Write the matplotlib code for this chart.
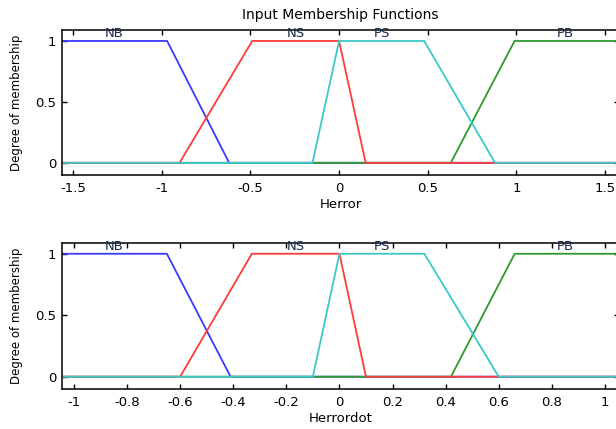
import matplotlib
matplotlib.use("Agg")
import matplotlib.pyplot as plt
import numpy as np

plt.rcParams['font.family'] = ['DejaVu Sans']

# Membership function names and trapezoid breakpoints [a, b, c, d]
# (None means the shoulder extends to the edge of the range)
mf_names = ["NB", "NS", "PS", "PB"]
mf_colors = ["#3a3aff", "#ff3b3b", "#3cc8c8", "#2e9a2e"]

herror_range = [-1.563, 1.579]
herror_nb = [None, None, -0.97, -0.62]
herror_ns = [-0.90, -0.49, 0.0, 0.15]
herror_ps = [-0.15, 0.0, 0.48, 0.88]
herror_pb = [0.63, 0.99, None, None]
herror_ticks = [-1.5, -1, -0.5, 0, 0.5, 1, 1.5]
herror_ticklabels = ["-1.5", "-1", "-0.5", "0", "0.5", "1", "1.5"]

herrordot_range = [-1.045, 1.053]
herrordot_nb = [None, None, -0.65, -0.41]
herrordot_ns = [-0.60, -0.33, 0.0, 0.10]
herrordot_ps = [-0.10, 0.0, 0.32, 0.60]
herrordot_pb = [0.42, 0.66, None, None]
herrordot_ticks = [-1, -0.8, -0.6, -0.4, -0.2, 0, 0.2, 0.4, 0.6, 0.8, 1]
herrordot_ticklabels = ["-1", "-0.8", "-0.6", "-0.4", "-0.2", "0", "0.2",
                        "0.4", "0.6", "0.8", "1"]

y_ticks = [0, 0.5, 1]
y_ticklabels = ["0", "0.5", "1"]

# labels are centred on the plateau of the symmetric ±range
label_span = {"Herror": 1.563, "Herrordot": 1.045}


def trap_curve(params, lo, hi):
    a, b, c, d = params
    xs, ys = [lo], []
    if a is None:
        ys.append(1.0)
    else:
        ys.append(0.0)
        xs += [a, b]
        ys += [0.0, 1.0]
    if d is None:
        xs.append(hi)
        ys.append(1.0)
    else:
        xs += [c, d, hi]
        ys += [1.0, 0.0, 0.0]
    return np.array(xs), np.array(ys)


def plateau_center(params, lo, hi):
    a, b, c, d = params
    left = lo if a is None else b
    right = hi if d is None else c
    return 0.5 * (left + right)


fig = plt.figure(figsize=(6.16, 4.29), dpi=100)
ax1 = fig.add_axes([62 / 616, 1 - 175 / 429, 557 / 616, 145 / 429])
ax2 = fig.add_axes([62 / 616, 1 - 389 / 429, 557 / 616, 146.3 / 429])

panels = [
    (ax1, herror_range, [herror_nb, herror_ns, herror_ps, herror_pb],
     herror_ticks, herror_ticklabels, "Herror"),
    (ax2, herrordot_range, [herrordot_nb, herrordot_ns, herrordot_ps, herrordot_pb],
     herrordot_ticks, herrordot_ticklabels, "Herrordot"),
]

# drawing order keeps the zero baselines layered as blue, green, red, cyan
draw_order = [0, 3, 1, 2]

for ax, rng, mfs, xt, xtl, xlab in panels:
    lo, hi = rng
    span = label_span[xlab]
    for i in draw_order:
        xs, ys = trap_curve(mfs[i], lo, hi)
        ax.plot(xs, ys, color=mf_colors[i], lw=1.3, solid_joinstyle='miter')
    for name, p in zip(mf_names, mfs):
        ax.text(plateau_center(p, -span, span), 1.062, name, ha='center',
                va='center', fontsize=9.5, color='#1a2a4a')
    ax.set_xlim(lo, hi)
    ax.set_ylim(-0.1, 1.09)
    ax.set_xticks(xt)
    ax.set_xticklabels(xtl)
    ax.set_yticks(y_ticks)
    ax.set_yticklabels(y_ticklabels)
    ax.tick_params(direction='in', length=3.5, width=1.0, top=True, right=True,
                   labelsize=9.5, pad=5)
    ax.tick_params(axis='y', pad=4)
    for s in ax.spines.values():
        s.set_linewidth(1.1)
    ax.set_xlabel(xlab, fontsize=9.5, labelpad=2)
    ax.set_ylabel("Degree of membership", fontsize=8.5, labelpad=9)

ax1.set_title("Input Membership Functions", fontsize=10, pad=8)

fig.savefig("out.png", dpi=100)
